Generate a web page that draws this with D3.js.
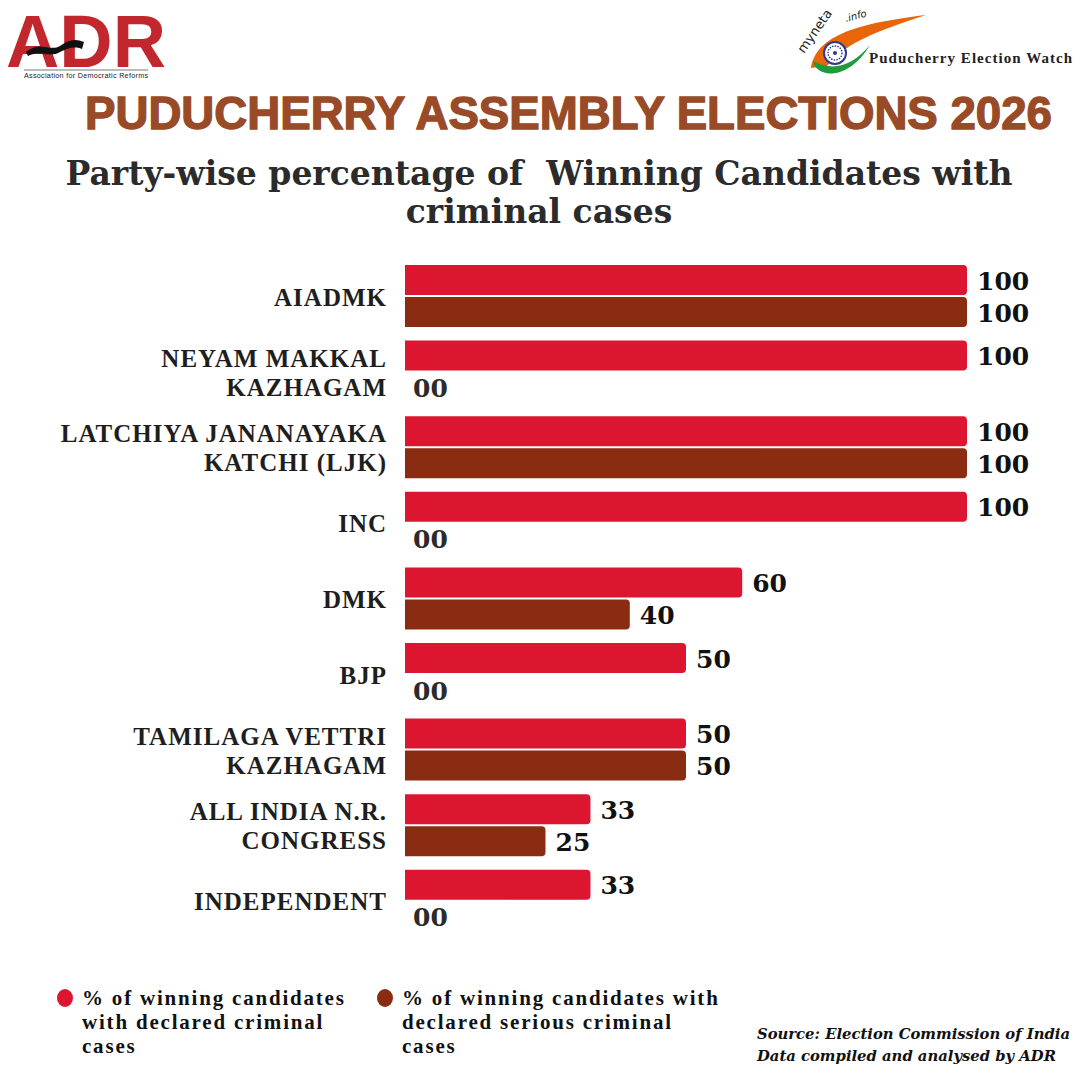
<!DOCTYPE html>
<html>
<head>
<meta charset="utf-8">
<script src="https://cdn.jsdelivr.net/npm/d3@7"></script>
<style>
  body { margin: 0; background: #fff; }
  svg { display: block; }
</style>
</head>
<body>
<div id="viz"></div>
<script>
// chart data
const parties = ['AIADMK', 'NEYAM MAKKAL KAZHAGAM', 'LATCHIYA JANANAYAKA KATCHI (LJK)', 'INC', 'DMK',
    'BJP', 'TAMILAGA VETTRI KAZHAGAM', 'ALL INDIA N.R. CONGRESS', 'INDEPENDENT']
const partyLines = [['AIADMK'], ['NEYAM MAKKAL', 'KAZHAGAM'], ['LATCHIYA JANANAYAKA', 'KATCHI (LJK)'], ['INC'], ['DMK'],
    ['BJP'], ['TAMILAGA VETTRI', 'KAZHAGAM'], ['ALL INDIA N.R.', 'CONGRESS'], ['INDEPENDENT']]
const criminalPct = [100, 100, 100, 100, 60, 50, 50, 33, 33]
const seriousPct = [100, 0, 100, 0, 40, 0, 50, 25, 0]
const seriesKeys = ['criminal', 'serious']
const seriesNames = ['% of winning candidates with declared criminal cases',
    '% of winning candidates with declared serious criminal cases']
const legendLines = [['% of winning candidates', 'with declared criminal', 'cases'],
    ['% of winning candidates with', 'declared serious criminal', 'cases']]
const colors = { criminal: '#DC1631', serious: '#8A2C12' }

const W = 1080, H = 1080
const svg = d3.select('#viz').append('svg').attr('width', W).attr('height', H)

// ---- header logos ----
const adr = svg.append('g').attr('class', 'adr-logo')
adr.append('text')
    .attr('x', 6).attr('y', 67)
    .attr('font-family', 'Liberation Sans, Arial, sans-serif')
    .attr('font-weight', 'bold').attr('font-size', 74)
    .attr('textLength', 160).attr('lengthAdjust', 'spacingAndGlyphs')
    .attr('fill', '#C1272D').text('ADR')
adr.append('path')
    .attr('d', 'M26,52 C40,40 50,52 60,46 C68,40 75,38 84,42 L82,49 C74,46 68,48 60,52 C50,58 40,50 28,56 Z')
    .attr('fill', '#111')
adr.append('line').attr('x1', 24).attr('x2', 148).attr('y1', 70).attr('y2', 70)
    .attr('stroke', '#555').attr('stroke-width', 0.8)
adr.append('text')
    .attr('x', 24).attr('y', 78)
    .attr('font-family', 'Liberation Sans, Arial, sans-serif')
    .attr('font-size', 7.2).attr('fill', '#222')
    .attr('textLength', 124).text('Association for Democratic Reforms')

const myneta = svg.append('g').attr('class', 'myneta-logo')
myneta.append('path')
    .attr('d', 'M811,68 C816,38 850,24 926,15 C880,30 846,42 827,66 Z')
    .attr('fill', '#E8650A')
myneta.append('path')
    .attr('d', 'M813,61 C816,78 848,82 870,45 C852,66 834,72 813,61 Z')
    .attr('fill', '#1E9B3A')
myneta.append('circle').attr('cx', 835).attr('cy', 53).attr('r', 11)
    .attr('fill', '#fff').attr('stroke', '#2E3A8C').attr('stroke-width', 2)
myneta.append('circle').attr('cx', 835).attr('cy', 53).attr('r', 7)
    .attr('fill', 'none').attr('stroke', '#2E3A8C').attr('stroke-width', 1.4).attr('stroke-dasharray', '1.5,1.2')
myneta.append('circle').attr('cx', 835).attr('cy', 53).attr('r', 2).attr('fill', '#2E3A8C')
myneta.append('text')
    .attr('transform', 'translate(804,54) rotate(-55)')
    .attr('font-family', 'DejaVu Sans, sans-serif')
    .attr('font-size', 13).attr('fill', '#222').text('myneta')
myneta.append('text')
    .attr('transform', 'translate(846,22) rotate(-15)')
    .attr('font-family', 'DejaVu Sans, sans-serif').attr('font-style', 'italic')
    .attr('font-size', 10).attr('fill', '#222').text('.info')
myneta.append('text')
    .attr('x', 869).attr('y', 63)
    .attr('font-family', 'Liberation Serif, serif').attr('font-weight', 'bold')
    .attr('font-size', 15).attr('fill', '#222')
    .attr('textLength', 203).text('Puducherry Election Watch')

// ---- titles ----
svg.append('text')
    .attr('x', 85).attr('y', 129)
    .attr('font-family', 'Liberation Sans, Arial, sans-serif')
    .attr('font-weight', 'bold').attr('font-size', 45.5)
    .attr('textLength', 967).attr('lengthAdjust', 'spacingAndGlyphs')
    .attr('fill', '#994A26')
    .attr('stroke', '#994A26').attr('stroke-width', 1.3)
    .text('PUDUCHERRY ASSEMBLY ELECTIONS 2026')

const subtitle = ['Party-wise percentage of  Winning Candidates with', 'criminal cases']
svg.append('g').selectAll('text')
    .data(subtitle)
    .enter()
    .append('text')
    .attr('x', 539)
    .attr('y', (d, i) => 185 + i * 38)
    .attr('text-anchor', 'middle')
    .attr('font-family', 'DejaVu Serif, Georgia, serif')
    .attr('font-weight', 'bold').attr('font-size', 33)
    .attr('fill', '#2b2b2b')
    .attr('xml:space', 'preserve')
    .style('white-space', 'pre')
    .text(d => d)

// ---- bars ----
const rowStep = 75.6, rowBand = 62
const y = d3.scaleBand()
    .domain(parties)
    .range([265, 265 + 8 * rowStep + rowBand])
    .paddingInner((rowStep - rowBand) / rowStep)
    .paddingOuter(0)

const ySub = d3.scaleBand()
    .domain(seriesKeys)
    .range([0, y.bandwidth()])
    .paddingInner(2 / 32)

const x = d3.scaleLinear().domain([0, 100]).range([405, 967])

const rows = parties.map((p, i) => ({
    party: p, lines: partyLines[i],
    values: [{ key: 'criminal', v: criminalPct[i] }, { key: 'serious', v: seriousPct[i] }]
}))

// bar with rounded right end
function barPath(x0, x1, y0, h, r) {
    r = Math.min(r, (x1 - x0) / 2, h / 2)
    return `M${x0},${y0} H${x1 - r} Q${x1},${y0} ${x1},${y0 + r} V${y0 + h - r} Q${x1},${y0 + h} ${x1 - r},${y0 + h} H${x0} Z`
}

const rowG = svg.append('g').attr('class', 'rows')
    .selectAll('g')
    .data(rows)
    .enter()
    .append('g')
    .attr('transform', d => 'translate(0,' + y(d.party) + ')')

rowG.selectAll('path')
    .data(d => d.values.filter(v => v.v > 0))
    .enter()
    .append('path')
    .attr('d', d => barPath(x(0), x(d.v), ySub(d.key), ySub.bandwidth(), 4))
    .attr('fill', d => colors[d.key])

rowG.selectAll('text.value')
    .data(d => d.values)
    .enter()
    .append('text')
    .attr('class', 'value')
    .attr('x', d => d.v > 0 ? x(d.v) + 10 : x(0) + 8)
    .attr('y', d => ySub(d.key) + ySub.bandwidth() / 2 + 1)
    .attr('dominant-baseline', 'central')
    .attr('font-family', 'DejaVu Serif, Georgia, serif')
    .attr('font-weight', 'bold').attr('font-size', 25)
    .attr('fill', d => d.v > 0 ? '#111' : '#2b2b2b')
    .text(d => d.v > 0 ? d.v : '00')

// party labels
rowG.selectAll('text.label')
    .data(d => d.lines.map((t, i) => ({ t: t, i: i, n: d.lines.length })))
    .enter()
    .append('text')
    .attr('class', 'label')
    .attr('x', 387)
    .attr('y', d => y.bandwidth() / 2 + 1 + (d.i - (d.n - 1) / 2) * 29)
    .attr('dominant-baseline', 'central')
    .attr('text-anchor', 'end')
    .attr('font-family', 'Liberation Serif, Times New Roman, serif')
    .attr('font-weight', 'bold').attr('font-size', 25)
    .attr('letter-spacing', 1)
    .attr('fill', '#1e1e1e')
    .text(d => d.t)

// ---- legend ----
const legendX = [65, 385]
const legend = svg.append('g').attr('class', 'legend')
    .selectAll('g')
    .data(seriesKeys)
    .enter()
    .append('g')
    .attr('transform', (d, i) => 'translate(' + legendX[i] + ',998)')
    .attr('aria-label', (d, i) => seriesNames[i])

legend.append('ellipse')
    .attr('rx', 8).attr('ry', 9)
    .attr('fill', d => colors[d])

legend.selectAll('text')
    .data((d, i) => legendLines[i])
    .enter()
    .append('text')
    .attr('x', 17)
    .attr('y', (d, i) => i * 24)
    .attr('dominant-baseline', 'central')
    .attr('font-family', 'Liberation Serif, Times New Roman, serif')
    .attr('font-weight', 'bold').attr('font-size', 21)
    .attr('letter-spacing', 1.8)
    .attr('fill', '#111')
    .text(d => d)

// ---- source ----
const source = ['Source: Election Commission of India', 'Data compiled and analysed by ADR']
svg.append('g').selectAll('text')
    .data(source)
    .enter()
    .append('text')
    .attr('x', 757)
    .attr('y', (d, i) => 1033 + i * 22)
    .attr('dominant-baseline', 'central')
    .attr('font-family', 'DejaVu Serif, Georgia, serif')
    .attr('font-weight', 'bold').attr('font-style', 'italic')
    .attr('font-size', 14.8)
    .attr('fill', '#111')
    .text(d => d)
</script>
</body>
</html>
